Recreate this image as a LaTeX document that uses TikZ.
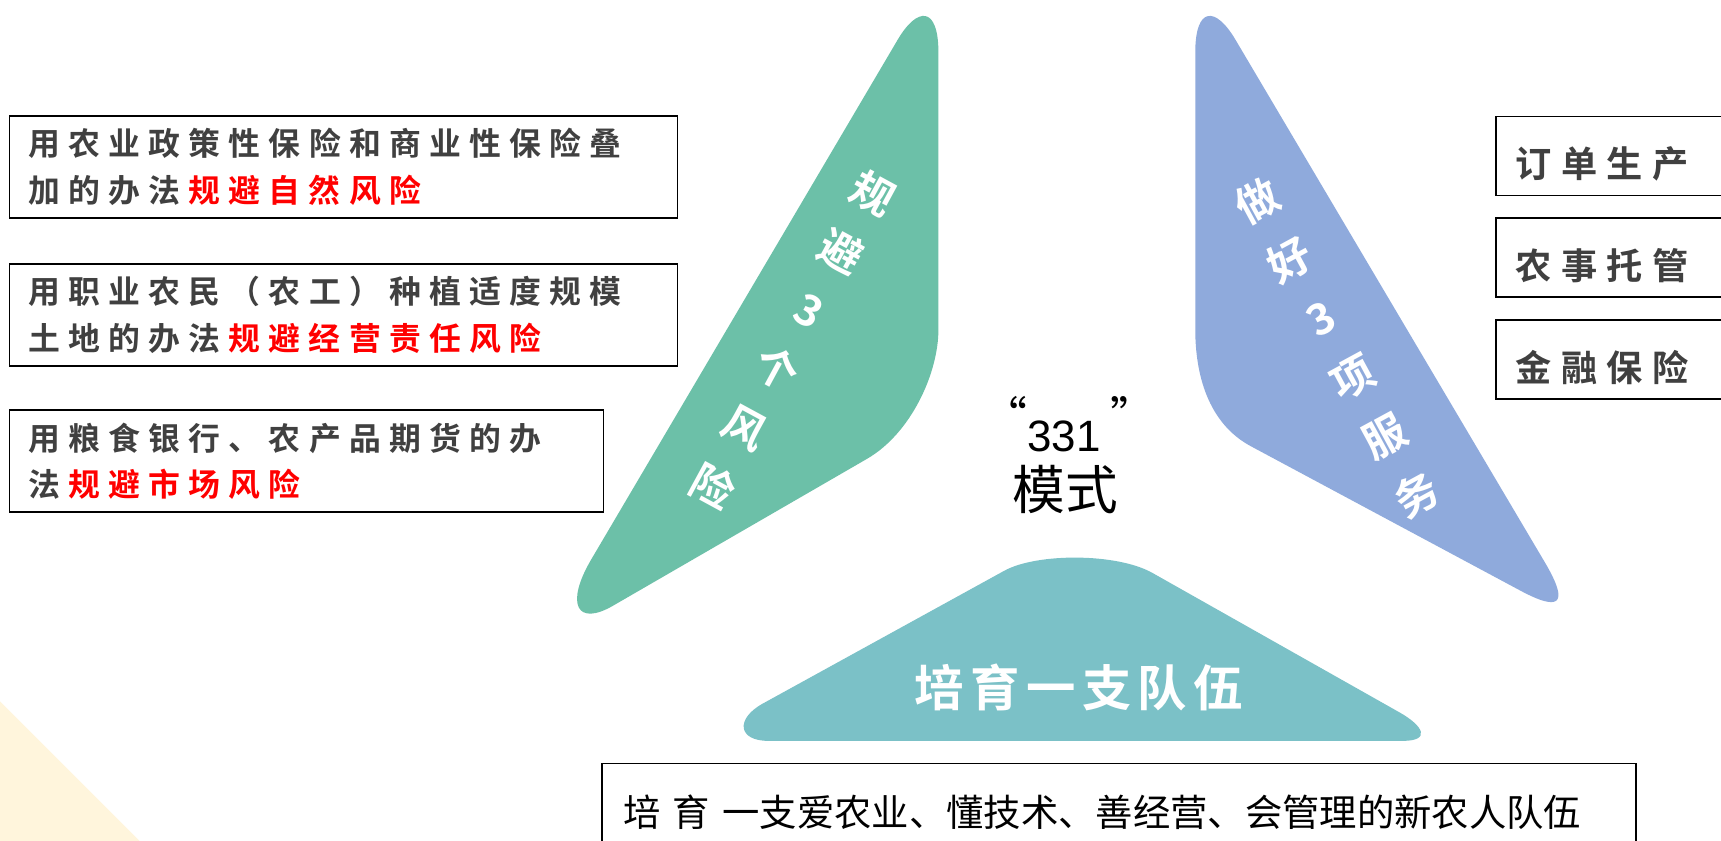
\documentclass[tikz,border=0pt]{standalone}
\usepackage{fontspec}
\setmainfont{Liberation Sans}
\newfontfamily\cjk{Noto Sans CJK SC}[BoldFont={Noto Sans CJK SC Bold}]
\newfontfamily\cjkwide{Noto Sans CJK SC}[BoldFont={Noto Sans CJK SC Bold},LetterSpace=26]
\newfontfamily\cjkteam{Noto Sans CJK SC}[BoldFont={Noto Sans CJK SC Bold},LetterSpace=13]
\definecolor{riskgreen}{HTML}{6CC0A8}
\definecolor{serveblue}{HTML}{8FAADC}
\definecolor{teamteal}{HTML}{7BC1C7}
\definecolor{paleyellow}{HTML}{FFF5DC}
\definecolor{boxgray}{HTML}{404040}
\definecolor{alertred}{HTML}{FF0000}
\newcommand{\redpart}[1]{\kern7.5pt{\color{alertred}#1}}

\begin{document}
\begin{tikzpicture}[x=1pt,y=-1pt,
    riskbox/.style={draw=black,line width=1.5pt,anchor=north west,inner xsep=17pt,inner ysep=0pt,minimum height=93pt,align=left,text=boxgray,font=\cjkwide\bfseries\fontsize{29pt}{42.5pt}\selectfont},
    servebox/.style={draw=black,line width=1.5pt,anchor=north west,inner xsep=18pt,inner ysep=0pt,minimum height=72pt,text width=177pt,align=left,text height=43pt,text depth=4pt,text=boxgray,font=\cjkwide\bfseries\fontsize{33pt}{33pt}\selectfont},
    slanted/.style={text=white,align=center,font=\cjk\bfseries\fontsize{39pt}{60.8pt}\selectfont}]
    \fill[white] (0,0) rectangle (1568,766);
    \useasboundingbox (0,0) rectangle (1568,766);
    \fill[paleyellow] (0,639) -- (127,766) -- (0,766) -- cycle;

    \fill[riskgreen] (855,300) -- (855,48) .. controls (855,5) and (835.7,6) .. (818,36) -- (538.5,510) .. controls (515,550) and (525,572) .. (560,551) -- (790,418) .. controls (830,394.8) and (855,340) .. (855,300) -- cycle;
    \fill[serveblue] (1089,300) -- (1089,48) .. controls (1089,5) and (1107.8,6) .. (1125.5,36) -- (1407.3,512) .. controls (1431,552) and (1420,556.8) .. (1385,538) -- (1140,406.75) .. controls (1100,385.5) and (1089,340) .. (1089,300) -- cycle;
    \fill[teamteal] (700,675) -- (1278,675) .. controls (1304,675) and (1297,661.4) .. (1275,649) -- (1050,522) .. controls (1017.6,503.7) and (944.6,503.7) .. (915,520) -- (695,641) .. controls (670,654.75) and (672,675) .. (700,675) -- cycle;

    \node[slanted,rotate=-28.5] (avoidrisk) at (722.5,309.5) {规\\避\\3\\个\\风\\险};
    \node[slanted,rotate=28.5] (doservice) at (1218,317) {做\\好\\3\\项\\服\\务};
    \node[text=white,font=\cjkteam\bfseries\fontsize{45pt}{45pt}\selectfont] (team) at (983,626) {培育一支队伍};

    \node[anchor=base,font=\fontsize{40pt}{40pt}\selectfont] (model) at (974,411.5) {{\cjk\raisebox{17pt}{“}}331\hspace{9pt}{\cjk\raisebox{17pt}{”}}};
    \node[font=\cjk\fontsize{48pt}{48pt}\selectfont] (modename) at (970.5,446) {模式};

    \node[riskbox,text width=574.5pt] (natural) at (8,105) {用农业政策性保险和商业性保险叠\\加的办法\redpart{规避自然风险}};
    \node[riskbox,text width=574.5pt] (business) at (8,239.5) {用职业农民（农工）种植适度规模\\土地的办法\redpart{规避经营责任风险}};
    \node[riskbox,text width=507pt] (market) at (8,373) {用粮食银行、农产品期货的办\\法\redpart{规避市场风险}};

    \node[servebox] (order) at (1362,105.5) {订单生产};
    \node[servebox] (trust) at (1362,198) {农事托管};
    \node[servebox] (finance) at (1362,291) {金融保险};

    \node[draw=black,line width=1.5pt,anchor=north west,inner xsep=19pt,inner ysep=0pt,minimum height=89pt,text width=904pt,align=left,font=\cjk\fontsize{34pt}{34pt}\selectfont] (train) at (548,695) {培 育 一支爱农业、懂技术、善经营、会管理的新农人队伍};
\end{tikzpicture}
\end{document}
